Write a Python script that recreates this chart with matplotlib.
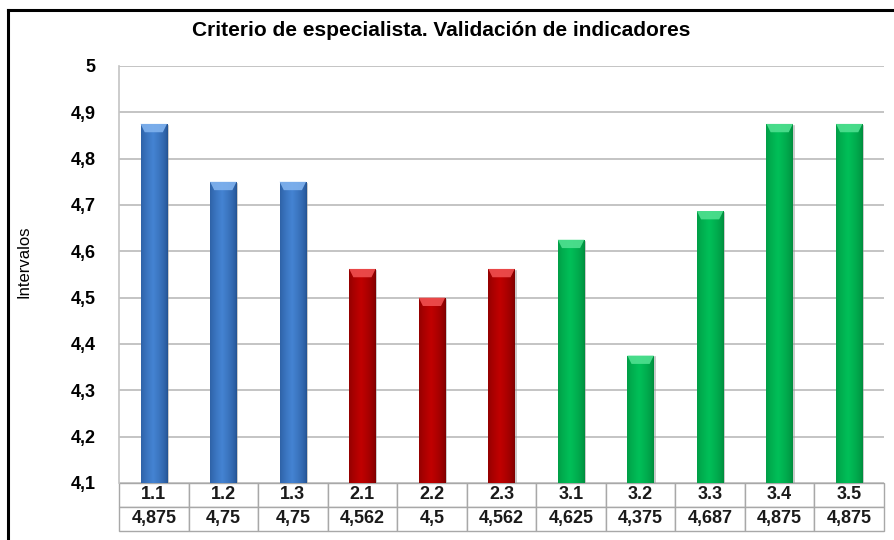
import numpy as np
import matplotlib
matplotlib.use('Agg')
from matplotlib import pyplot as plt
from matplotlib.colors import LinearSegmentedColormap
from matplotlib.patches import Polygon
from matplotlib.lines import Line2D

# Data.
categories = ['1.1', '1.2', '1.3', '2.1', '2.2', '2.3', '3.1', '3.2', '3.3', '3.4', '3.5']
values = [4.875, 4.75, 4.75, 4.562, 4.5, 4.562, 4.625, 4.375, 4.687, 4.875, 4.875]
groups = ['1', '1', '1', '2', '2', '2', '3', '3', '3', '3', '3']
y_ticks = [4.1, 4.2, 4.3, 4.4, 4.5, 4.6, 4.7, 4.8, 4.9, 5.0]

# Colours per group: edge (dark), centre, light cap.
GROUP_COLORS = {'1': ('#22508f', '#4483d2', '#80b2ee'),
                '2': ('#7a0000', '#c00000', '#f05050'),
                '3': ('#008a3c', '#00bf58', '#50e090')}

plt.rcParams['font.family'] = ['Liberation Sans', 'DejaVu Sans']

fig = plt.figure(figsize=(8.94, 5.4), dpi=100)
ax = fig.add_axes([0.1331, 0.1056, 0.8557, 0.7722])

Y_MIN, Y_MAX = 4.1, 5.0
BAR_W = 0.38
x_pos = np.arange(len(categories))

grad = np.linspace(0, 1, 64)
grad = 1 - np.abs(grad - 0.45) / 0.55
grad = np.clip(grad, 0, 1) ** 0.6
grad = grad.reshape(1, -1)

for x, v, g in zip(x_pos, values, groups):
	dark, mid, light = GROUP_COLORS[g]
	cmap = LinearSegmentedColormap.from_list(f'g{g}', [dark, mid])
	bar = ax.bar(x, v - Y_MIN, bottom=Y_MIN, width=BAR_W, color='none',
				 edgecolor='none', zorder=3)[0]
	im = ax.imshow(grad, cmap=cmap, aspect='auto', interpolation='bilinear',
				   extent=[x - BAR_W / 2, x + BAR_W / 2, Y_MIN, v], zorder=3)
	im.set_clip_path(bar)
	# lighter bevel at the top of each bar
	cap_h = 0.018
	cap = Polygon([[x - BAR_W / 2, v], [x + BAR_W / 2, v],
				   [x + BAR_W / 2 - 0.06, v - cap_h], [x - BAR_W / 2 + 0.06, v - cap_h]],
				  closed=True, facecolor=light, edgecolor='none', alpha=0.9, zorder=4)
	ax.add_patch(cap)
	# soft shadow on the right side
	ax.plot([x + BAR_W / 2 + 0.012] * 2, [Y_MIN, v - 0.004], color='#999999',
			lw=1.2, alpha=0.6, zorder=2)

ax.set_xlim(-0.5, len(categories) - 0.5)
ax.set_ylim(Y_MIN, Y_MAX)
ax.set_yticks(y_ticks)
ax.set_yticklabels([f'{t:g}'.replace('.', ',') for t in y_ticks],
				   fontsize=13, fontweight='bold')
ax.set_xticks([])
ax.tick_params(axis='y', length=0, pad=17)
ax.grid(axis='y', color='#c4c4c4', linewidth=1.4, zorder=0)
ax.set_axisbelow(True)
for side in ['top', 'right', 'bottom']:
	ax.spines[side].set_visible(False)
ax.spines['left'].set_color('#c4c4c4')
ax.spines['left'].set_linewidth(1.2)

ax.set_ylabel('Intervalos', fontsize=12)
ax.yaxis.set_label_coords(-0.1150, 0.53)

# Data table below the plot.
value_labels = [f'{v:g}'.replace('.', ',') for v in values]
tbl = ax.table(cellText=[categories, value_labels], cellLoc='center',
			   bbox=[0, -0.1151, 1, 0.1151])
tbl.auto_set_font_size(False)
for cell in tbl.get_celld().values():
	cell.set_edgecolor('#a8a8a8')
	cell.set_linewidth(1.0)
	cell.get_text().set_fontsize(13)
	cell.get_text().set_fontweight('bold')
	cell.get_text().set_color('#1a1a1a')

fig.text(0.493, 0.943, 'Criterio de especialista. Validación de indicadores',
		 ha='center', va='center', fontsize=15, fontweight='bold')

# Outer chart frame (left and top edges are visible).
fig.add_artist(Line2D([8 / 894, 8 / 894], [0, 1 - 10 / 540], color='black', lw=2.2))
fig.add_artist(Line2D([8 / 894, 1], [1 - 10 / 540, 1 - 10 / 540], color='black', lw=2.2))

fig.savefig('out.png', dpi=100)
